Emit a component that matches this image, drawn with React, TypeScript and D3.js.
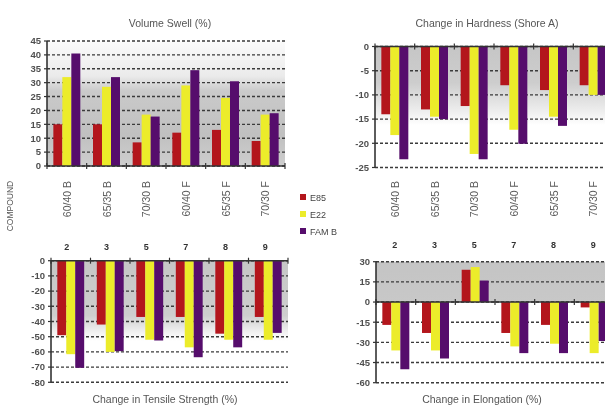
import React from "react";
import * as d3 from "d3";

const compounds = ["60/40 B", "65/35 B", "70/30 B", "60/40 F", "65/35 F", "70/30 F"];
const compoundNums = ["2", "3", "5", "7", "8", "9"];
const fuels = ["E85", "E22", "FAM B"];
const fuelColors = ["#b3131c", "#ecec2a", "#560f6c"];

// volume swell (%)
const swellE85 = [15, 15, 8.5, 12, 13, 9];
const swellE22 = [32, 28.5, 18.5, 29, 24.5, 18.5];
const swellFamB = [40.5, 32, 17.8, 34.5, 30.5, 19];

// change in hardness (shore A)
const hardE85 = [-14, -13, -12.3, -8, -9, -8];
const hardE22 = [-18.3, -14.5, -22.2, -17.2, -14.5, -10];
const hardFamB = [-23.3, -15, -23.3, -20.1, -16.4, -10];

// change in tensile strength (%)
const tensE85 = [-49, -42, -37, -37, -48, -37];
const tensE22 = [-61.5, -60, -52, -57, -52, -52];
const tensFamB = [-70.5, -59.5, -52.5, -63.5, -57, -47.5];

// change in elongation (%)
const elongE85 = [-17, -23, 24, -23, -17, -4];
const elongE22 = [-36, -36, 26, -33, -31, -38];
const elongFamB = [-50, -42, 16, -38, -38, -29];

const font = "'Liberation Sans', Arial, sans-serif";

type Stop = [number, string];

interface PanelProps {
  id: string;
  x0: number;
  x1: number;
  yTop: number;
  yBottom: number;
  domain: [number, number];
  ticks: number[];
  series: number[][];
  stops: Stop[];
  title: string;
  titleX: number;
  titleY: number;
}

const Panel = ({ id, x0, x1, yTop, yBottom, domain, ticks, series, stops, title, titleX, titleY }: PanelProps) => {
  const x = d3.scaleBand<string>().domain(compounds).range([x0, x1]).paddingInner(0.32).paddingOuter(0.16);
  const xs = d3.scaleBand<string>().domain(fuels).range([0, x.bandwidth()]);
  const y = d3.scaleLinear().domain(domain).range([yBottom, yTop]);
  const zero = y(0);
  const step = x.step();
  return (
    <g>
      <defs>
        <linearGradient id={id} x1="0" y1="0" x2="0" y2="1">
          {stops.map((s, i) => (
            <stop key={i} offset={s[0]} stopColor={s[1]} />
          ))}
        </linearGradient>
      </defs>
      <rect x={x0} y={yTop} width={x1 - x0} height={yBottom - yTop} fill={`url(#${id})`} />
      {ticks.map((t) => (
        <line key={t} x1={x0} x2={x1} y1={y(t)} y2={y(t)} stroke="#3a3a3a" strokeWidth={1.4} strokeDasharray="3 2" />
      ))}
      {series.map((vals, si) =>
        vals.map((v, gi) => {
          const bx = (x(compounds[gi]) as number) + (xs(fuels[si]) as number);
          return (
            <rect
              key={`${si}-${gi}`}
              x={bx}
              y={Math.min(y(v), zero)}
              width={xs.bandwidth()}
              height={Math.abs(y(v) - zero)}
              fill={fuelColors[si]}
            />
          );
        })
      )}
      <line x1={x0} x2={x0} y1={yTop} y2={yBottom} stroke="#333" strokeWidth={1.6} />
      <line x1={x0} x2={x1} y1={zero} y2={zero} stroke="#333" strokeWidth={1.6} />
      {d3.range(compounds.length + 1).map((i) => (
        <line key={i} x1={x0 + i * step} x2={x0 + i * step} y1={zero - 3} y2={zero + 3} stroke="#333" strokeWidth={1.2} />
      ))}
      {ticks.map((t) => (
        <g key={t}>
          <line x1={x0 - 3} x2={x0} y1={y(t)} y2={y(t)} stroke="#333" strokeWidth={1.2} />
          <text
            x={x0 - 6}
            y={y(t)}
            dy="0.35em"
            textAnchor="end"
            fontSize={9.5}
            fontWeight="bold"
            fontFamily={font}
            fill="#505050"
          >
            {t}
          </text>
        </g>
      ))}
      <text x={titleX} y={titleY} textAnchor="middle" fontSize={10.5} fontFamily={font} fill="#555">
        {title}
      </text>
    </g>
  );
};

const CategoryLabels = ({ x0, x1, top, numY }: { x0: number; x1: number; top: number; numY: number }) => {
  const x = d3.scaleBand<string>().domain(compounds).range([x0, x1]).paddingInner(0.32).paddingOuter(0.16);
  return (
    <g>
      {compounds.map((c, i) => {
        const cx = (x(c) as number) + x.bandwidth() / 2;
        return (
          <g key={c}>
            <text
              transform={`translate(${cx + 4},${top}) rotate(-90)`}
              textAnchor="end"
              fontSize={10.5}
              fontFamily={font}
              fill="#5a5a5a"
            >
              {c}
            </text>
            <text x={cx} y={numY} textAnchor="middle" fontSize={9} fontWeight="bold" fontFamily={font} fill="#333">
              {compoundNums[i]}
            </text>
          </g>
        );
      })}
    </g>
  );
};

export default function App() {
  return (
    <svg width={605} height={410} style={{ position: "absolute", left: 0, top: 0, background: "#fff" }}>
      <defs>
        <filter id="soft">
          <feGaussianBlur stdDeviation="0.45" />
        </filter>
      </defs>
      <rect width={605} height={410} fill="#fff" />
      <g filter="url(#soft)">
        <Panel
          id="g1"
          x0={47}
          x1={285}
          yTop={41}
          yBottom={166}
          domain={[0, 45]}
          ticks={d3.range(0, 46, 5)}
          series={[swellE85, swellE22, swellFamB]}
          stops={[[0, "#fbfbfb"], [0.28, "#ebebeb"], [0.4, "#cacaca"], [0.75, "#c0c0c0"], [1, "#cecece"]]}
          title="Volume Swell (%)"
          titleX={170}
          titleY={27}
        />
        <Panel
          id="g2"
          x0={375}
          x1={613}
          yTop={46.5}
          yBottom={167.5}
          domain={[-25, 0]}
          ticks={d3.range(-25, 1, 5)}
          series={[hardE85, hardE22, hardFamB]}
          stops={[[0, "#c6c6c6"], [0.3, "#cdcdcd"], [0.55, "#f0f0f0"], [0.65, "#ffffff"], [1, "#ffffff"]]}
          title="Change in Hardness (Shore A)"
          titleX={487}
          titleY={27}
        />
        <Panel
          id="g3"
          x0={51}
          x1={288}
          yTop={260.7}
          yBottom={382.3}
          domain={[-80, 0]}
          ticks={d3.range(-80, 1, 10)}
          series={[tensE85, tensE22, tensFamB]}
          stops={[[0, "#c6c6c6"], [0.45, "#cecece"], [0.6, "#f4f4f4"], [0.66, "#ffffff"], [1, "#ffffff"]]}
          title="Change in Tensile Strength (%)"
          titleX={165}
          titleY={403}
        />
        <Panel
          id="g4"
          x0={376}
          x1={614}
          yTop={261.7}
          yBottom={382.7}
          domain={[-60, 30]}
          ticks={d3.range(-60, 31, 15)}
          series={[elongE85, elongE22, elongFamB]}
          stops={[[0, "#c4c4c4"], [0.333, "#c8c8c8"], [0.334, "#ffffff"], [1, "#ffffff"]]}
          title="Change in Elongation (%)"
          titleX={482}
          titleY={403}
        />
        <CategoryLabels x0={47} x1={285} top={181} numY={250} />
        <CategoryLabels x0={375} x1={613} top={181} numY={248} />
        <text
          transform="translate(13,206) rotate(-90)"
          textAnchor="middle"
          fontSize={8.5}
          fontFamily={font}
          fill="#555"
        >
          COMPOUND
        </text>
        {fuels.map((f, i) => (
          <g key={f} transform={`translate(300,${198 + i * 17})`}>
            <rect x={0} y={-4} width={6} height={6} fill={fuelColors[i]} />
            <text x={10} y={0} dy="0.3em" fontSize={9} fontFamily={font} fill="#444">
              {f}
            </text>
          </g>
        ))}
      </g>
    </svg>
  );
}
